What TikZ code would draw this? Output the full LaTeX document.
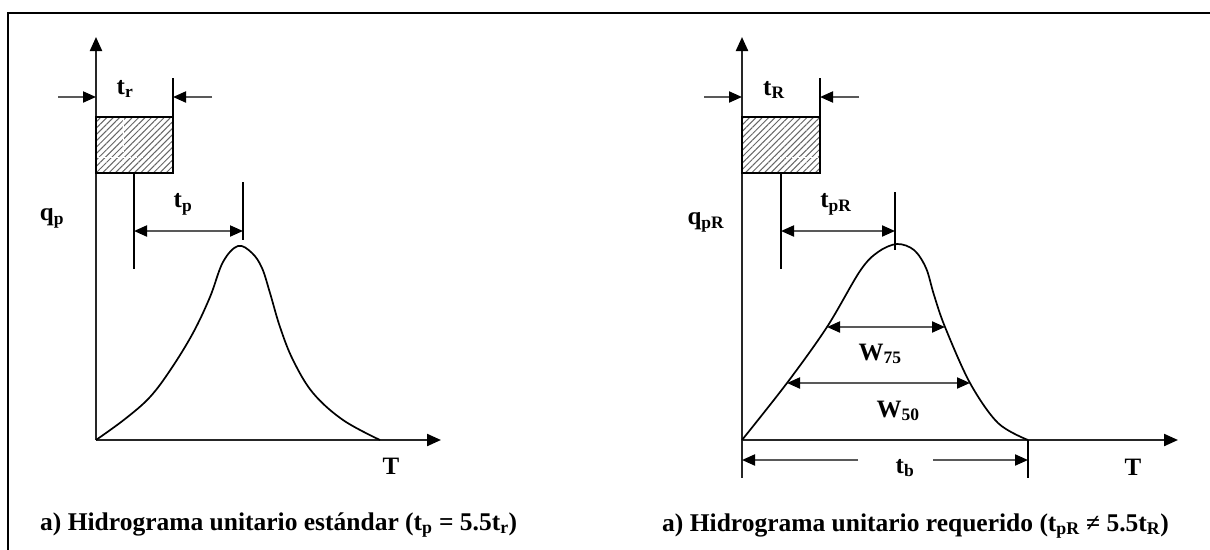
\documentclass[tikz,border=0pt]{standalone}
\usepackage{fontspec}
\setmainfont{Liberation Serif}
\usetikzlibrary{arrows.meta,patterns.meta}
\newcommand\lbl[2]{\textbf{#1}\textsubscript{\textbf{#2}}}
\tikzset{
  axisline/.style={line width=2.2pt,draw=black!85,-{Triangle[length=14pt,width=12pt,color=black]}},
  vline/.style={line width=1.6pt},
  dimarr/.style={line width=2pt,draw=black!65,-{Triangle[length=13pt,width=11pt,color=black]}},
  dimboth/.style={line width=2pt,draw=black!65,{Triangle[length=13pt,width=11pt,color=black]}-{Triangle[length=13pt,width=11pt,color=black]}},
  rain/.style={line width=1.6pt,pattern={Lines[angle=45,distance=4.5pt,line width=1pt]},pattern color=black!60},
  curveline/.style={line width=1.7pt},
  lab/.style={inner sep=0pt,font=\fontsize{25}{25}\selectfont},
  captext/.style={inner sep=0pt,anchor=base west,font=\fontsize{25.5}{25.5}\selectfont\bfseries}
}
\begin{document}
\begin{tikzpicture}[x=1pt,y=-1pt]
\useasboundingbox (0,0) rectangle (1210,549);
% frame
\draw[line width=2.4pt] (8,560) -- (8,13) -- (1215,13);

% ===== Left panel =====
\coordinate (O1) at (96,440);
\coordinate (Y1) at (96,37);
\coordinate (X1) at (441,440);
\draw[axisline] (O1) -- (Y1);
\draw[axisline] (O1) -- (X1);
\draw[rain] (96,117) rectangle (173,173);
\draw[white,dashed,line width=0.9pt] (123,119) -- (123,171) (98,157) -- (171,157);
\coordinate (B1r) at (173,117);
\coordinate (B1t) at (173,78);
\draw[vline] (B1t) -- (B1r);
\coordinate (L1a) at (58,97);  \coordinate (L1b) at (96,97);
\coordinate (R1a) at (212,97); \coordinate (R1b) at (173,97);
\draw[dimarr] (L1a) -- (L1b);
\draw[dimarr] (R1a) -- (R1b);
\node[lab] (tr) at (125,89) {\lbl{t}{r}};
\coordinate (C1a) at (134,173); \coordinate (C1b) at (134,269);
\draw[vline] (C1a) -- (C1b);
\coordinate (P1a) at (243,182); \coordinate (P1b) at (243,240);
\draw[vline] (P1a) -- (P1b);
\coordinate (D1a) at (134,231); \coordinate (D1b) at (243,231);
\draw[dimboth] (D1a) -- (D1b);
\node[lab] (tp) at (183,204) {\lbl{t}{p}};
\node[lab] (qp) at (52,218) {\lbl{q}{p}};
\draw[curveline] plot[smooth,tension=0.6] coordinates {(96,440) (125,419) (150,397) (171,369) (193,333) (210,297) (223,262) (238,246) (252,253) (262,268) (270,293) (280,327) (293,360) (313,393) (343,420) (380,440)};
\node[lab] (T1) at (391,466) {\textbf{T}};
\node[captext] (cap1) at (40,530) {a) Hidrograma unitario estándar (t\textsubscript{p} = 5.5t\textsubscript{r})};

% ===== Right panel =====
\coordinate (O2) at (742,440);
\coordinate (Y2) at (742,37);
\coordinate (X2) at (1178,440);
\coordinate (O2d) at (742,478);
\draw[axisline] (O2) -- (Y2);
\draw[axisline] (O2) -- (X2);
\draw[line width=2.2pt,draw=black!85] (O2) -- (O2d);
\draw[rain] (742,117) rectangle (820,173);
\draw[white,dashed,line width=0.9pt] (744,157) -- (818,157);
\coordinate (B2r) at (820,117);
\coordinate (B2t) at (820,78);
\draw[vline] (B2t) -- (B2r);
\coordinate (L2a) at (704,97);  \coordinate (L2b) at (742,97);
\coordinate (R2a) at (859,97);  \coordinate (R2b) at (820,97);
\draw[dimarr] (L2a) -- (L2b);
\draw[dimarr] (R2a) -- (R2b);
\node[lab] (tR) at (774,90) {\lbl{t}{R}};
\coordinate (C2a) at (781,173); \coordinate (C2b) at (781,269);
\draw[vline] (C2a) -- (C2b);
\coordinate (P2a) at (895,192); \coordinate (P2b) at (895,250);
\draw[vline] (P2a) -- (P2b);
\coordinate (D2a) at (781,231); \coordinate (D2b) at (895,231);
\draw[dimboth] (D2a) -- (D2b);
\node[lab] (tpR) at (836,204) {\lbl{t}{pR}};
\node[lab] (qpR) at (706,222) {\lbl{q}{pR}};
\draw[curveline] plot[smooth,tension=0.55] coordinates {(742,440) (787,383) (827,327) (860,271) (878,252) (897,244) (914,250) (926,268) (934,295) (945,327) (970,383) (998,423) (1028,440)};
\coordinate (W75a) at (827,327); \coordinate (W75b) at (945,327);
\draw[dimboth] (W75a) -- (W75b);
\node[lab] (w75) at (880,354) {\lbl{W}{75}};
\coordinate (W50a) at (787,383); \coordinate (W50b) at (970,383);
\draw[dimboth] (W50a) -- (W50b);
\node[lab] (w50) at (898,411) {\lbl{W}{50}};
\coordinate (E2a) at (1028,440); \coordinate (E2b) at (1028,478);
\draw[vline] (E2a) -- (E2b);
\coordinate (TbLa) at (858,460); \coordinate (TbLb) at (742,460);
\coordinate (TbRa) at (933,460); \coordinate (TbRb) at (1028,460);
\draw[dimarr] (TbLa) -- (TbLb);
\draw[dimarr] (TbRa) -- (TbRb);
\node[lab] (tb) at (905,468) {\lbl{t}{b}};
\node[lab] (T2) at (1133,467) {\textbf{T}};
\node[captext] (cap2) at (662,531) {a) Hidrograma unitario requerido (t\textsubscript{pR} ≠ 5.5t\textsubscript{R})};
\end{tikzpicture}
\end{document}
